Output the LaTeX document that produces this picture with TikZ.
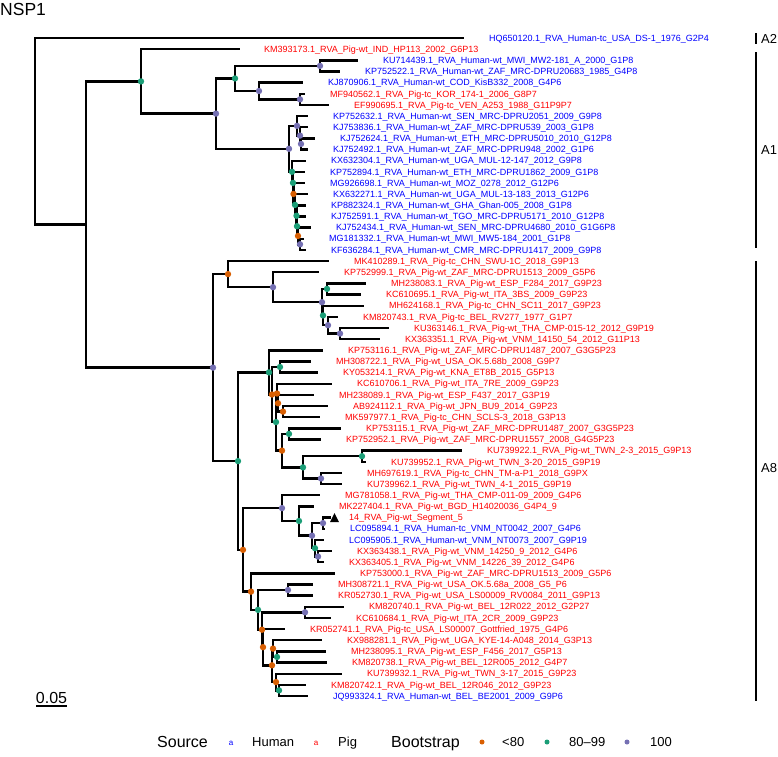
\documentclass[tikz,border=0pt]{standalone}
\usepackage{fontspec}
\setmainfont{Liberation Sans}
\definecolor{cO}{HTML}{D95F02}
\definecolor{cG}{HTML}{1B9E77}
\definecolor{cP}{HTML}{7570B3}
\definecolor{hum}{HTML}{0000FF}
\definecolor{pig}{HTML}{FF0000}
\tikzset{
  br/.style={line width=2.4pt},
  dotO/.style={circle, fill=cO, inner sep=0pt, minimum size=6.4pt},
  dotG/.style={circle, fill=cG, inner sep=0pt, minimum size=6.4pt},
  dotP/.style={circle, fill=cP, inner sep=0pt, minimum size=6.4pt},
  lab/.style={anchor=base west, inner sep=0pt, font=\fontsize{9}{10}\selectfont, yshift=-3.2pt},
  labH/.style={lab, text=hum},
  labR/.style={lab, text=pig},
  cladebar/.style={line width=1.5pt},
  cladelab/.style={anchor=base west, inner sep=0pt, font=\fontsize{13}{14}\selectfont},
  legtitle/.style={anchor=base west, inner sep=0pt, font=\fontsize{16}{18}\selectfont},
  legitem/.style={anchor=base west, inner sep=0pt, font=\fontsize{13}{15}\selectfont},
  legkey/.style={anchor=base, inner sep=0pt, font=\fontsize{8}{9}\selectfont},
  legdot/.style={circle, inner sep=0pt, minimum size=5pt},
}
\begin{document}
\begin{tikzpicture}[x=1pt,y=-1pt]
\useasboundingbox (0,0) rectangle (778,756);
% internal nodes
\coordinate (R0) at (35,131.25);
\coordinate (N1) at (86,224.5);
\coordinate (A1r) at (141,81.4);
\coordinate (ap2) at (216,113.6);
\coordinate (ag1) at (235,78.45);
\coordinate (akp) at (320,65.9);
\coordinate (akj) at (259,91.0);
\coordinate (amf) at (300,99.35);
\coordinate (P) at (289,148.8);
\coordinate (q1) at (297,125.85);
\coordinate (q2) at (300,135.6);
\coordinate (q3) at (301,143.95);
\coordinate (n1) at (292,171.8);
\coordinate (n2) at (293,182.9);
\coordinate (n3) at (293.5,193.95);
\coordinate (n4) at (295,204.9);
\coordinate (n5) at (296.5,215.75);
\coordinate (n6) at (297,226.2);
\coordinate (n7) at (298,235.95);
\coordinate (n8) at (300,244.3);
\coordinate (A8) at (213,367.6);
\coordinate (T) at (228,274.1);
\coordinate (c273) at (273,287.2);
\coordinate (c322) at (322,302.2);
\coordinate (ctop) at (327,288.9);
\coordinate (cmh) at (323,315.45);
\coordinate (ckm) at (328,325.2);
\coordinate (cpair) at (340,333.55);
\coordinate (B) at (238,461.1);
\coordinate (B1) at (269,372.4);
\coordinate (bo272) at (272,394.5);
\coordinate (bg280) at (280,367.0);
\coordinate (bg276) at (276,422.05);
\coordinate (bo277) at (277,393.5);
\coordinate (bo278) at (278,403.25);
\coordinate (bo283) at (283,411.6);
\coordinate (bo282) at (282,450.6);
\coordinate (bg289) at (289,433.9);
\coordinate (bg303) at (303,467.35);
\coordinate (bg362) at (362,456.2);
\coordinate (bp321) at (321,478.5);
\coordinate (B2) at (243,549.85);
\coordinate (dp282) at (282,508.1);
\coordinate (dg299) at (299,521.0);
\coordinate (dp312) at (312,535.65);
\coordinate (dp323) at (323,523.1);
\coordinate (dg315) at (315,548.2);
\coordinate (dp318) at (318,556.55);
\coordinate (eo251) at (251,591.6);
\coordinate (eg258) at (258,609.85);
\coordinate (ep288) at (288,590.0);
\coordinate (eo262) at (262,629.7);
\coordinate (ep305) at (305,612.3);
\coordinate (eo263) at (263,647.15);
\coordinate (eo272) at (272,665.3);
\coordinate (eo273) at (273,648.6);
\coordinate (eg277) at (277,656.95);
\coordinate (eo276) at (276,682.05);
\coordinate (eg279) at (279,690.4);
% tips
\coordinate (t1) at (464,38.0);
\coordinate (t2) at (240,49.2);
\coordinate (t3) at (358,60.3);
\coordinate (t4) at (340,71.5);
\coordinate (t5) at (303,82.6);
\coordinate (t6) at (305,93.8);
\coordinate (t7) at (329,104.9);
\coordinate (t8) at (308,116.1);
\coordinate (t9) at (308,127.2);
\coordinate (t10) at (315,138.4);
\coordinate (t11) at (308,149.5);
\coordinate (t12) at (306,160.7);
\coordinate (t13) at (305,171.8);
\coordinate (t14) at (305,183.0);
\coordinate (t15) at (308,194.1);
\coordinate (t16) at (306,205.3);
\coordinate (t17) at (306,216.4);
\coordinate (t18) at (311,227.6);
\coordinate (t19) at (304,238.7);
\coordinate (t20) at (306,249.9);
\coordinate (t21) at (329,261.0);
\coordinate (t22) at (319,272.2);
\coordinate (t23) at (366,283.3);
\coordinate (t24) at (361,294.5);
\coordinate (t25) at (364,305.7);
\coordinate (t26) at (338,316.8);
\coordinate (t27) at (389,328.0);
\coordinate (t28) at (380,339.1);
\coordinate (t29) at (323,350.3);
\coordinate (t30) at (311,361.4);
\coordinate (t31) at (318,372.6);
\coordinate (t32) at (332,383.7);
\coordinate (t33) at (314,394.9);
\coordinate (t34) at (328,406.0);
\coordinate (t35) at (320,417.2);
\coordinate (t36) at (341,428.3);
\coordinate (t37) at (321,439.5);
\coordinate (t38) at (462,450.6);
\coordinate (t39) at (366,461.8);
\coordinate (t40) at (342,472.9);
\coordinate (t41) at (342,484.1);
\coordinate (t42) at (320,495.2);
\coordinate (t43) at (314,506.4);
\coordinate (t44) at (331,517.5);
\coordinate (t45) at (325,528.7);
\coordinate (t46) at (324,539.8);
\coordinate (t47) at (332,551.0);
\coordinate (t48) at (324,562.1);
\coordinate (t49) at (335,573.3);
\coordinate (t50) at (313,584.4);
\coordinate (t51) at (313,595.6);
\coordinate (t52) at (344,606.7);
\coordinate (t53) at (331,617.9);
\coordinate (t54) at (285,629.0);
\coordinate (t55) at (322,640.2);
\coordinate (t56) at (326,651.4);
\coordinate (t57) at (327,662.5);
\coordinate (t58) at (342,673.7);
\coordinate (t59) at (306,684.8);
\coordinate (t60) at (308,696.0);
% branches
\foreach \pa/\ch in {R0/t1,R0/N1,N1/A1r,N1/A8,A1r/t2,A1r/ap2,ap2/ag1,ap2/P,ag1/akp,ag1/akj,
  akp/t3,akp/t4,akj/t5,akj/amf,amf/t6,amf/t7,P/q1,P/n1,q1/t8,q1/q2,q2/t9,q2/q3,q3/t10,q3/t11,
  n1/t12,n1/n2,n2/t13,n2/n3,n3/t14,n3/n4,n4/t15,n4/n5,n5/t16,n5/n6,n6/t17,n6/n7,n7/t18,n7/n8,n8/t19,n8/t20,
  A8/T,A8/B,T/t21,T/c273,c273/t22,c273/c322,c322/ctop,c322/cmh,ctop/t23,ctop/t24,cmh/t25,cmh/ckm,
  ckm/t26,ckm/cpair,cpair/t27,cpair/t28,B/B1,B/B2,B1/t29,B1/bo272,bo272/bg280,bo272/bg276,
  bg280/t30,bg280/t31,bg276/bo277,bg276/bo282,bo277/t32,bo277/bo278,bo278/t33,bo278/bo283,
  bo283/t34,bo283/t35,bo282/bg289,bo282/bg303,bg289/t36,bg289/t37,bg303/bg362,bg303/bp321,
  bg362/t38,bg362/t39,bp321/t40,bp321/t41,B2/dp282,B2/eo251,dp282/t42,dp282/dg299,dg299/t43,
  dg299/dp312,dp312/dp323,dp312/dg315,dp323/t44,dp323/t45,dg315/t46,dg315/dp318,dp318/t47,dp318/t48,
  eo251/t49,eo251/eg258,eg258/ep288,eg258/eo262,ep288/t50,ep288/t51,eo262/ep305,eo262/eo263,
  ep305/t52,ep305/t53,eo263/t54,eo263/eo272,eo272/eo273,eo272/eo276,eo273/t55,eo273/eg277,
  eg277/t56,eg277/t57,eo276/t58,eo276/eg279,eg279/t59,eg279/t60}
  \draw[br] (\pa) |- (\ch);
% bootstrap dots
\foreach \n in {akp,akj,amf,ap2,P,q1,q2,q3,n8,A8,c273,c322,ckm,cpair,bp321,dp282,dp312,dp323,dp318,ep288,ep305}
  \node[dotP] (d\n) at (\n) {};
\foreach \n in {ag1,A1r,n1,n2,n4,n5,n6,ctop,cmh,B,B1,bg280,bg276,bg289,bg303,bg362,dg299,dg315,eg258,eg277,eg279}
  \node[dotG] (d\n) at (\n) {};
\foreach \n in {n3,n7,T,bo272,bo277,bo278,bo283,bo282,B2,eo251,eo262,eo263,eo272,eo273,eo276}
  \node[dotO] (d\n) at (\n) {};
% highlighted tip
\fill (t44) ++(-1,4.5) -- ++(9,0) -- ++(-4.5,-9) -- cycle;
% labels
\node[labH] (l1) at ([xshift=25pt]t1) {HQ650120.1\_RVA\_Human-tc\_USA\_DS-1\_1976\_G2P4};
\node[labR] (l2) at ([xshift=24pt]t2) {KM393173.1\_RVA\_Pig-wt\_IND\_HP113\_2002\_G6P13};
\node[labH] (l3) at ([xshift=25pt]t3) {KU714439.1\_RVA\_Human-wt\_MWI\_MW2-181\_A\_2000\_G1P8};
\node[labH] (l4) at ([xshift=25pt]t4) {KP752522.1\_RVA\_Human-wt\_ZAF\_MRC-DPRU20683\_1985\_G4P8};
\node[labH] (l5) at ([xshift=25pt]t5) {KJ870906.1\_RVA\_Human-wt\_COD\_KisB332\_2008\_G4P6};
\node[labR] (l6) at ([xshift=25pt]t6) {MF940562.1\_RVA\_Pig-tc\_KOR\_174-1\_2006\_G8P7};
\node[labR] (l7) at ([xshift=25pt]t7) {EF990695.1\_RVA\_Pig-tc\_VEN\_A253\_1988\_G11P9P7};
\node[labH] (l8) at ([xshift=25pt]t8) {KP752632.1\_RVA\_Human-wt\_SEN\_MRC-DPRU2051\_2009\_G9P8};
\node[labH] (l9) at ([xshift=25pt]t9) {KJ753836.1\_RVA\_Human-wt\_ZAF\_MRC-DPRU539\_2003\_G1P8};
\node[labH] (l10) at ([xshift=25pt]t10) {KJ752624.1\_RVA\_Human-wt\_ETH\_MRC-DPRU5010\_2010\_G12P8};
\node[labH] (l11) at ([xshift=25pt]t11) {KJ752492.1\_RVA\_Human-wt\_ZAF\_MRC-DPRU948\_2002\_G1P6};
\node[labH] (l12) at ([xshift=25pt]t12) {KX632304.1\_RVA\_Human-wt\_UGA\_MUL-12-147\_2012\_G9P8};
\node[labH] (l13) at ([xshift=25pt]t13) {KP752894.1\_RVA\_Human-wt\_ETH\_MRC-DPRU1862\_2009\_G1P8};
\node[labH] (l14) at ([xshift=25pt]t14) {MG926698.1\_RVA\_Human-wt\_MOZ\_0278\_2012\_G12P6};
\node[labH] (l15) at ([xshift=25pt]t15) {KX632271.1\_RVA\_Human-wt\_UGA\_MUL-13-183\_2013\_G12P6};
\node[labH] (l16) at ([xshift=25pt]t16) {KP882324.1\_RVA\_Human-wt\_GHA\_Ghan-005\_2008\_G1P8};
\node[labH] (l17) at ([xshift=25pt]t17) {KJ752591.1\_RVA\_Human-wt\_TGO\_MRC-DPRU5171\_2010\_G12P8};
\node[labH] (l18) at ([xshift=25pt]t18) {KJ752434.1\_RVA\_Human-wt\_SEN\_MRC-DPRU4680\_2010\_G1G6P8};
\node[labH] (l19) at ([xshift=25pt]t19) {MG181332.1\_RVA\_Human-wt\_MWI\_MW5-184\_2001\_G1P8};
\node[labH] (l20) at ([xshift=25pt]t20) {KF636284.1\_RVA\_Human-wt\_CMR\_MRC-DPRU1417\_2009\_G9P8};
\node[labR] (l21) at ([xshift=25pt]t21) {MK410289.1\_RVA\_Pig-tc\_CHN\_SWU-1C\_2018\_G9P13};
\node[labR] (l22) at ([xshift=25pt]t22) {KP752999.1\_RVA\_Pig-wt\_ZAF\_MRC-DPRU1513\_2009\_G5P6};
\node[labR] (l23) at ([xshift=25pt]t23) {MH238083.1\_RVA\_Pig-wt\_ESP\_F284\_2017\_G9P23};
\node[labR] (l24) at ([xshift=25pt]t24) {KC610695.1\_RVA\_Pig-wt\_ITA\_3BS\_2009\_G9P23};
\node[labR] (l25) at ([xshift=25pt]t25) {MH624168.1\_RVA\_Pig-tc\_CHN\_SC11\_2017\_G9P23};
\node[labR] (l26) at ([xshift=25pt]t26) {KM820743.1\_RVA\_Pig-tc\_BEL\_RV277\_1977\_G1P7};
\node[labR] (l27) at ([xshift=25pt]t27) {KU363146.1\_RVA\_Pig-wt\_THA\_CMP-015-12\_2012\_G9P19};
\node[labR] (l28) at ([xshift=25pt]t28) {KX363351.1\_RVA\_Pig-wt\_VNM\_14150\_54\_2012\_G11P13};
\node[labR] (l29) at ([xshift=25pt]t29) {KP753116.1\_RVA\_Pig-wt\_ZAF\_MRC-DPRU1487\_2007\_G3G5P23};
\node[labR] (l30) at ([xshift=25pt]t30) {MH308722.1\_RVA\_Pig-wt\_USA\_OK.5.68b\_2008\_G9P7};
\node[labR] (l31) at ([xshift=25pt]t31) {KY053214.1\_RVA\_Pig-wt\_KNA\_ET8B\_2015\_G5P13};
\node[labR] (l32) at ([xshift=25pt]t32) {KC610706.1\_RVA\_Pig-wt\_ITA\_7RE\_2009\_G9P23};
\node[labR] (l33) at ([xshift=25pt]t33) {MH238089.1\_RVA\_Pig-wt\_ESP\_F437\_2017\_G3P19};
\node[labR] (l34) at ([xshift=25pt]t34) {AB924112.1\_RVA\_Pig-wt\_JPN\_BU9\_2014\_G9P23};
\node[labR] (l35) at ([xshift=25pt]t35) {MK597977.1\_RVA\_Pig-tc\_CHN\_SCLS-3\_2018\_G3P13};
\node[labR] (l36) at ([xshift=25pt]t36) {KP753115.1\_RVA\_Pig-wt\_ZAF\_MRC-DPRU1487\_2007\_G3G5P23};
\node[labR] (l37) at ([xshift=25pt]t37) {KP752952.1\_RVA\_Pig-wt\_ZAF\_MRC-DPRU1557\_2008\_G4G5P23};
\node[labR] (l38) at ([xshift=25pt]t38) {KU739922.1\_RVA\_Pig-wt\_TWN\_2-3\_2015\_G9P13};
\node[labR] (l39) at ([xshift=25pt]t39) {KU739952.1\_RVA\_Pig-wt\_TWN\_3-20\_2015\_G9P19};
\node[labR] (l40) at ([xshift=25pt]t40) {MH697619.1\_RVA\_Pig-tc\_CHN\_TM-a-P1\_2018\_G9PX};
\node[labR] (l41) at ([xshift=25pt]t41) {KU739962.1\_RVA\_Pig-wt\_TWN\_4-1\_2015\_G9P19};
\node[labR] (l42) at ([xshift=25pt]t42) {MG781058.1\_RVA\_Pig-wt\_THA\_CMP-011-09\_2009\_G4P6};
\node[labR] (l43) at ([xshift=25pt]t43) {MK227404.1\_RVA\_Pig-wt\_BGD\_H14020036\_G4P4\_9};
\node[labR] (l44) at ([xshift=18pt]t44) {14\_RVA\_Pig-wt\_Segment\_5};
\node[labH] (l45) at ([xshift=25pt]t45) {LC095894.1\_RVA\_Human-tc\_VNM\_NT0042\_2007\_G4P6};
\node[labH] (l46) at ([xshift=25pt]t46) {LC095905.1\_RVA\_Human-wt\_VNM\_NT0073\_2007\_G9P19};
\node[labR] (l47) at ([xshift=25pt]t47) {KX363438.1\_RVA\_Pig-wt\_VNM\_14250\_9\_2012\_G4P6};
\node[labR] (l48) at ([xshift=25pt]t48) {KX363405.1\_RVA\_Pig-wt\_VNM\_14226\_39\_2012\_G4P6};
\node[labR] (l49) at ([xshift=25pt]t49) {KP753000.1\_RVA\_Pig-wt\_ZAF\_MRC-DPRU1513\_2009\_G5P6};
\node[labR] (l50) at ([xshift=25pt]t50) {MH308721.1\_RVA\_Pig-wt\_USA\_OK.5.68a\_2008\_G5\_P6};
\node[labR] (l51) at ([xshift=25pt]t51) {KR052730.1\_RVA\_Pig-wt\_USA\_LS00009\_RV0084\_2011\_G9P13};
\node[labR] (l52) at ([xshift=25pt]t52) {KM820740.1\_RVA\_Pig-wt\_BEL\_12R022\_2012\_G2P27};
\node[labR] (l53) at ([xshift=25pt]t53) {KC610684.1\_RVA\_Pig-wt\_ITA\_2CR\_2009\_G9P23};
\node[labR] (l54) at ([xshift=25pt]t54) {KR052741.1\_RVA\_Pig-tc\_USA\_LS00007\_Gottfried\_1975\_G4P6};
\node[labR] (l55) at ([xshift=25pt]t55) {KX988281.1\_RVA\_Pig-wt\_UGA\_KYE-14-A048\_2014\_G3P13};
\node[labR] (l56) at ([xshift=25pt]t56) {MH238095.1\_RVA\_Pig-wt\_ESP\_F456\_2017\_G5P13};
\node[labR] (l57) at ([xshift=25pt]t57) {KM820738.1\_RVA\_Pig-wt\_BEL\_12R005\_2012\_G4P7};
\node[labR] (l58) at ([xshift=25pt]t58) {KU739932.1\_RVA\_Pig-wt\_TWN\_3-17\_2015\_G9P23};
\node[labR] (l59) at ([xshift=25pt]t59) {KM820742.1\_RVA\_Pig-wt\_BEL\_12R046\_2012\_G9P23};
\node[labH] (l60) at ([xshift=25pt]t60) {JQ993324.1\_RVA\_Human-wt\_BEL\_BE2001\_2009\_G9P6};
% title
\node[anchor=base west, inner sep=0pt, font=\fontsize{17.5}{20}\selectfont] (title) at (0,15) {NSP1};
% clade bars
\coordinate (a2t) at (756,33); \coordinate (a2b) at (756,44);
\coordinate (a1t) at (756,52); \coordinate (a1b) at (756,248);
\coordinate (a8t) at (756,261); \coordinate (a8b) at (756,701);
\draw[cladebar] (a2t) -- (a2b);
\draw[cladebar] (a1t) -- (a1b);
\draw[cladebar] (a8t) -- (a8b);
\node[cladelab] (ca2) at (761,43.6) {A2};
\node[cladelab] (ca1) at (761,154.6) {A1};
\node[cladelab] (ca8) at (761,472.6) {A8};
% scale bar
\coordinate (sb1) at (36,706); \coordinate (sb2) at (67,706);
\draw[line width=1.6pt] (sb1) -- (sb2);
\node[anchor=base, inner sep=0pt, font=\fontsize{16}{18}\selectfont] (sbl) at (51.5,703) {0.05};
% legend
\node[legtitle] (lgs) at (157,747.5) {Source};
\node[legkey, text=hum] (lka) at (231,745.5) {a};
\node[legitem] (lgh) at (252,746.5) {Human};
\node[legkey, text=pig] (lkb) at (316,745.5) {a};
\node[legitem] (lgp) at (338,746.5) {Pig};
\node[legtitle] (lgb) at (391,747.5) {Bootstrap};
\node[legdot, fill=cO] (ldo) at (482,742) {};
\node[legitem] (lgo) at (502,746.5) {<80};
\node[legdot, fill=cG] (ldg) at (547,742) {};
\node[legitem] (lgg) at (569,746.5) {80–99};
\node[legdot, fill=cP] (ldp) at (627,742) {};
\node[legitem] (lgq) at (650,746.5) {100};
\end{tikzpicture}
\end{document}
